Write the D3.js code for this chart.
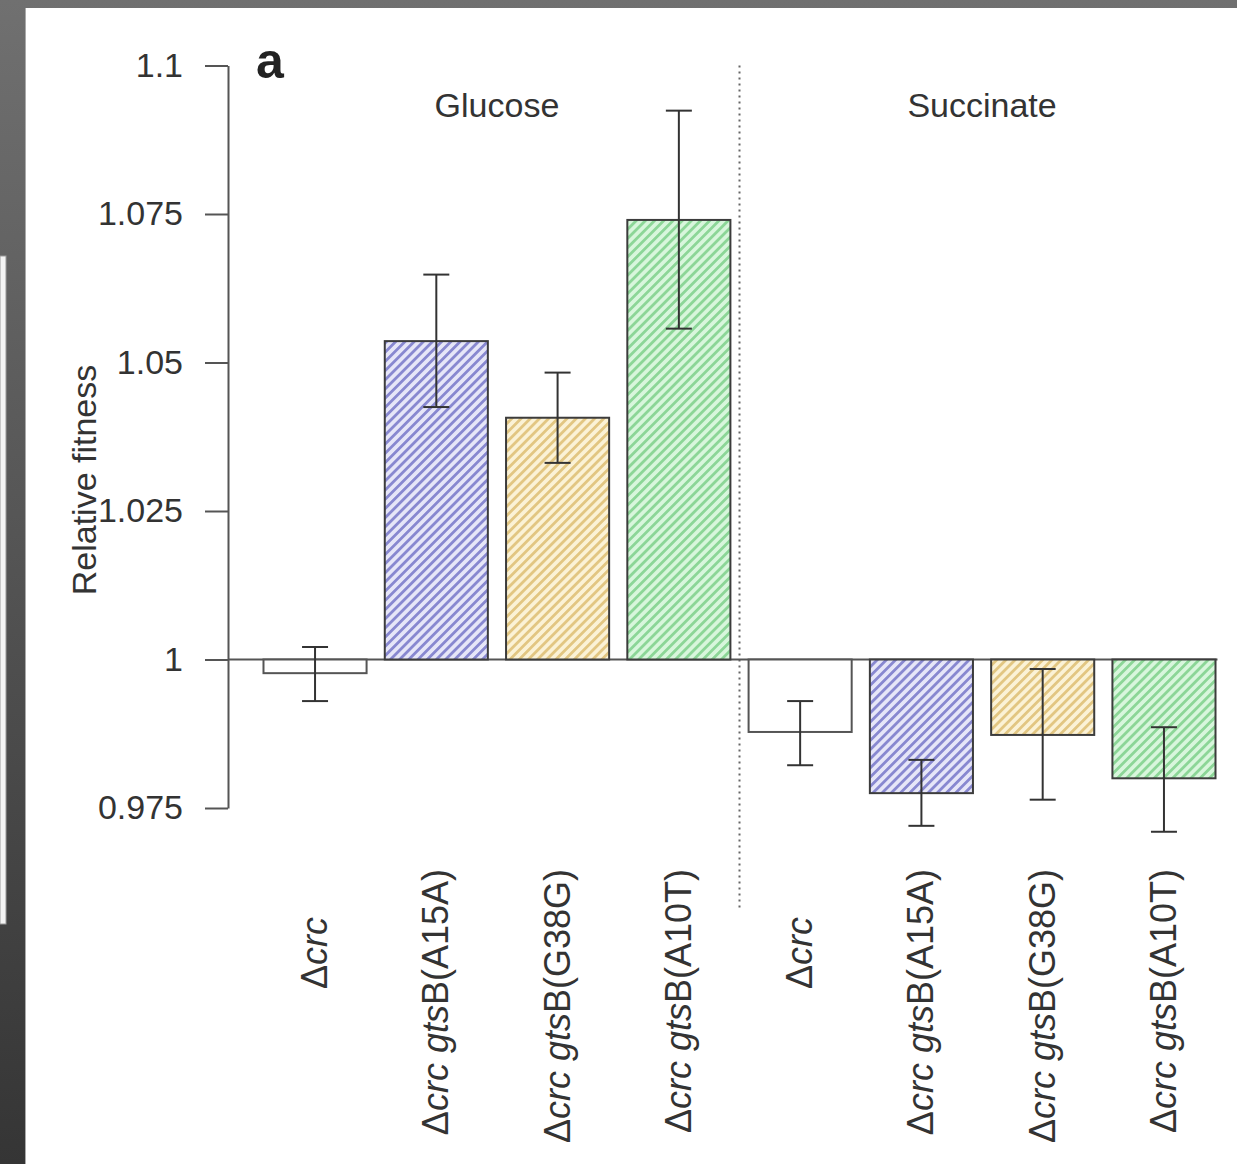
<!DOCTYPE html>
<html>
<head>
<meta charset="utf-8">
<script src="https://cdn.jsdelivr.net/npm/d3@7"></script>
<style>
  body { margin: 0; background: #fff; }
  svg { display: block; font-family: 'Liberation Sans', Arial, sans-serif; }
</style>
</head>
<body>
<svg width="1237" height="1164"></svg>
<script>
// data
let media = ['Glucose', 'Succinate'];
let strains = ['crc', 'A15A', 'G38G', 'A10T'];
let glucoseMean = [0.9977, 1.0536, 1.0407, 1.0740];
let glucoseLo = [0.9930, 1.0425, 1.0331, 1.0557];
let glucoseHi = [1.0021, 1.0648, 1.0483, 1.0924];
let succinateMean = [0.9878, 0.9775, 0.9873, 0.9800];
let succinateLo = [0.9822, 0.9720, 0.9764, 0.9710];
let succinateHi = [0.9930, 0.9831, 0.9984, 0.9886];
let yTicks = [0.975, 1, 1.025, 1.05, 1.075, 1.1];
let yTickLabels = ['0.975', '1', '1.025', '1.05', '1.075', '1.1'];

let svg = d3.select('svg');
let W = 1237, H = 1164;

// slide frame behind the figure
let defs = svg.append('defs');
let grad = defs.append('linearGradient').attr('id', 'frame')
  .attr('x1', 0).attr('y1', 0).attr('x2', 0).attr('y2', 1);
grad.append('stop').attr('offset', '0%').attr('stop-color', '#707070');
grad.append('stop').attr('offset', '100%').attr('stop-color', '#353535');
svg.append('rect').attr('width', W).attr('height', H).attr('fill', 'url(#frame)');
svg.append('rect').attr('x', 0).attr('y', 256).attr('width', 6).attr('height', 668)
  .attr('fill', '#f4f4f4').attr('stroke', '#999').attr('stroke-width', 1);
svg.append('rect').attr('x', 25).attr('y', 8).attr('width', W - 25).attr('height', H - 8)
  .attr('fill', '#fff');
svg.append('line').attr('x1', 25.5).attr('x2', 25.5).attr('y1', 8).attr('y2', H)
  .attr('stroke', '#aaa').attr('stroke-width', 1);

// hatch patterns
let palette = { A15A: ['#e6e6f8', '#8888d0'], G38G: ['#fbf2d6', '#e2c682'], A10T: ['#d8f6dc', '#8cd697'] };
Object.keys(palette).forEach(k => {
  let p = defs.append('pattern').attr('id', 'hatch-' + k)
    .attr('patternUnits', 'userSpaceOnUse')
    .attr('width', 6.5).attr('height', 6.5)
    .attr('patternTransform', 'rotate(45)');
  p.append('rect').attr('width', 6.5).attr('height', 6.5).attr('fill', palette[k][0]);
  p.append('rect').attr('x', 0).attr('width', 2.8).attr('height', 6.5).attr('fill', palette[k][1]);
});

// flatten to one row per bar
let rows = [];
media.forEach((m, gi) => {
  let mean = gi === 0 ? glucoseMean : succinateMean;
  let lo = gi === 0 ? glucoseLo : succinateLo;
  let hi = gi === 0 ? glucoseHi : succinateHi;
  strains.forEach((s, i) => {
    rows.push({ id: m + '-' + s, medium: m, strain: s, mean: mean[i], lo: lo[i], hi: hi[i] });
  });
});

let x = d3.scaleBand()
  .domain(rows.map(d => d.id))
  .range([254.4, 1224.6])
  .paddingInner(0.15)
  .paddingOuter(0.075);

let y = d3.scaleLinear()
  .domain([0.975, 1.1])
  .range([808, 65.5]);

let axisX = 228;
let ink = '#333';

// y axis
let yAxis = svg.append('g')
  .attr('transform', `translate(${axisX},0)`)
  .call(d3.axisLeft(y).tickValues(yTicks).tickSize(23).tickSizeOuter(0).tickPadding(22)
    .tickFormat((d, i) => yTickLabels[i]));
yAxis.select('.domain').attr('stroke', '#555').attr('stroke-width', 2);
yAxis.selectAll('.tick line').attr('stroke', '#555').attr('stroke-width', 2);
yAxis.selectAll('.tick text')
  .attr('font-size', 34).attr('fill', ink)
  .attr('font-family', "'Liberation Sans', Arial, sans-serif");

svg.append('text')
  .attr('transform', 'translate(96,480) rotate(-90)')
  .attr('text-anchor', 'middle')
  .attr('font-size', 34).attr('fill', ink)
  .text('Relative fitness');

svg.append('text')
  .attr('x', 256).attr('y', 78)
  .attr('font-size', 50).attr('font-weight', 'bold').attr('fill', '#222')
  .text('a');

// divider between media
let divX = x(media[1] + '-' + strains[0]) - x.step() * x.paddingInner() / 2;
svg.append('line')
  .attr('x1', divX).attr('x2', divX)
  .attr('y1', y(1.1)).attr('y2', 910)
  .attr('stroke', '#666').attr('stroke-width', 2)
  .attr('stroke-dasharray', '2,4');

// medium titles
media.forEach(m => {
  let ids = strains.map(s => m + '-' + s);
  let cx = (x(ids[0]) + x(ids[ids.length - 1]) + x.bandwidth()) / 2;
  svg.append('text')
    .attr('x', cx).attr('y', 117)
    .attr('text-anchor', 'middle')
    .attr('font-size', 34).attr('fill', ink)
    .text(m);
});

// baseline at 1
let last = rows[rows.length - 1].id;
svg.append('line')
  .attr('x1', axisX).attr('x2', x(last) + x.bandwidth() + 2)
  .attr('y1', y(1)).attr('y2', y(1))
  .attr('stroke', '#555').attr('stroke-width', 2);

// bars
svg.append('g').selectAll('rect')
  .data(rows)
  .join('rect')
  .attr('x', d => x(d.id))
  .attr('width', x.bandwidth())
  .attr('y', d => y(Math.max(1, d.mean)))
  .attr('height', d => Math.abs(y(d.mean) - y(1)))
  .attr('fill', d => d.strain === 'crc' ? '#fff' : `url(#hatch-${d.strain})`)
  .attr('stroke', d => d.strain === 'crc' ? '#555' : '#3c3c3c')
  .attr('stroke-width', 2);

// error bars
let cap = 13;
let eb = svg.append('g').attr('stroke', ink).attr('stroke-width', 2);
eb.selectAll('.stem')
  .data(rows)
  .join('line')
  .attr('class', 'stem')
  .attr('x1', d => x(d.id) + x.bandwidth() / 2)
  .attr('x2', d => x(d.id) + x.bandwidth() / 2)
  .attr('y1', d => y(d.hi))
  .attr('y2', d => y(d.lo));
['hi', 'lo'].forEach(k => {
  eb.selectAll('.cap-' + k)
    .data(rows)
    .join('line')
    .attr('class', 'cap-' + k)
    .attr('x1', d => x(d.id) + x.bandwidth() / 2 - cap)
    .attr('x2', d => x(d.id) + x.bandwidth() / 2 + cap)
    .attr('y1', d => y(d[k]))
    .attr('y2', d => y(d[k]));
});

// rotated strain labels
rows.forEach(d => {
  let cx = x(d.id) + x.bandwidth() / 2;
  let top = d.strain === 'crc' ? 917 : 869;
  let t = svg.append('text')
    .attr('transform', `translate(${cx + 12},${top}) rotate(-90)`)
    .attr('text-anchor', 'end')
    .attr('font-size', 36).attr('fill', ink);
  t.append('tspan').text('\u0394');
  if (d.strain === 'crc') {
    t.append('tspan').attr('font-style', 'italic').text('crc');
  } else {
    t.append('tspan').attr('font-style', 'italic').text('crc gts');
    t.append('tspan').text('B(' + d.strain + ')');
  }
});
</script>
</body>
</html>
